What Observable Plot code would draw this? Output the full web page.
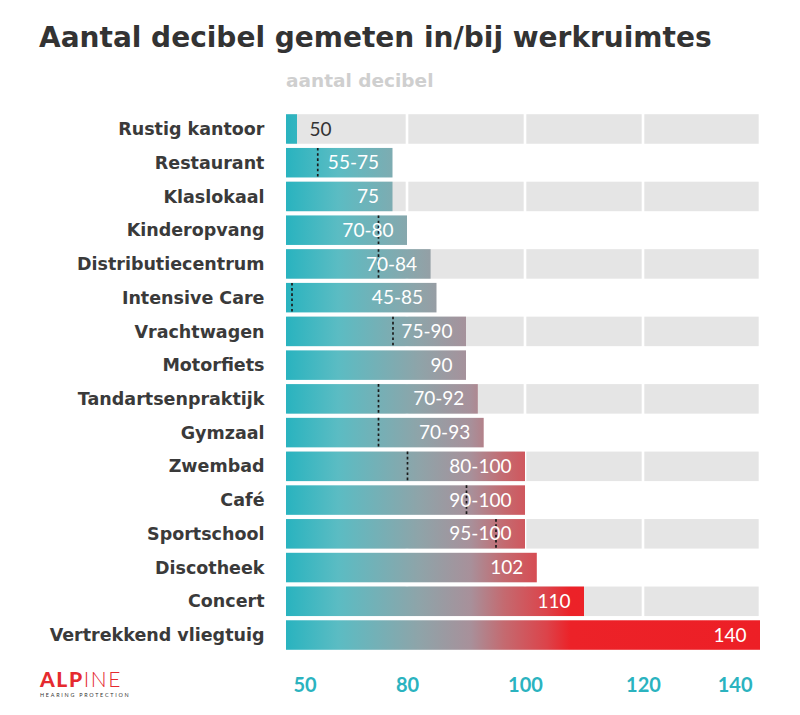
<!DOCTYPE html>
<html><head><meta charset="utf-8">
<script src="https://cdn.jsdelivr.net/npm/d3@7"></script>
<script src="https://cdn.jsdelivr.net/npm/@observablehq/plot@0.6"></script>
<style>
body{margin:0;background:#fff;font-family:Lato, sans-serif;}
#wrap{position:relative;width:800px;height:715px;overflow:hidden;}
#title{position:absolute;left:39px;top:20px;font-family:"DejaVu Sans",sans-serif;font-size:28px;font-weight:bold;color:#333;white-space:nowrap;line-height:36px;}
#sub{position:absolute;left:286px;top:69px;font-family:"DejaVu Sans",sans-serif;font-size:18.5px;font-weight:bold;color:#cfcfcf;line-height:24px;white-space:nowrap;}
#chart{position:absolute;left:0;top:64px;}
#logo1{position:absolute;left:40px;top:668px;color:#e52a2f;font-size:21px;line-height:21px;letter-spacing:1.6px;white-space:nowrap;}
#logo2{position:absolute;left:40px;top:692px;color:#333;font-size:5.4px;line-height:6px;letter-spacing:1.75px;white-space:nowrap;}
</style></head><body>
<div id="wrap">
<div id="title">Aantal decibel gemeten in/bij werkruimtes</div>
<div id="sub">aantal decibel</div>
<div id="chart"></div>
<div id="logo1"><span style="font-weight:900">ALP</span><span style="font-weight:300">INE</span></div>
<div id="logo2">HEARING PROTECTION</div>
</div>
<script>
const categories = ["Rustig kantoor","Restaurant","Klaslokaal","Kinderopvang","Distributiecentrum","Intensive Care","Vrachtwagen","Motorfiets","Tandartsenpraktijk","Gymzaal","Zwembad","Café","Sportschool","Discotheek","Concert","Vertrekkend vliegtuig"];
const lowValues = [null,55,null,70,70,45,75,null,70,70,80,90,95,null,null,null];
const highValues = [50,75,75,80,84,85,90,90,92,93,100,100,100,102,110,140];
const tickValues = [50,80,100,120,140];
const gridBreaks = [40,80,100,120,140];
const axisStart = 40;

const data = categories.map((c,i)=>({cat:c, i, lo:lowValues[i], hi:highValues[i],
  label: lowValues[i]!=null ? `${lowValues[i]}-${highValues[i]}` : `${highValues[i]}`}));
const bg = data.filter(d=>d.i%2===0).flatMap(d=>gridBreaks.slice(0,-1).map((b,k)=>({cat:d.cat, x1:b, x2:gridBreaks[k+1]})));

const teal = "#2bb3bf";
const chart = Plot.plot({
  width: 800, height: 651,
  marginLeft: 286, marginRight: 40, marginTop: 46, marginBottom: 61,
  style: {fontFamily: "Lato, sans-serif", fontSize: "18px", background: "transparent"},
  x: {type: "linear", domain: [40,50,70,80,100,120,140], range: [286,297,378,407,525,643,760], axis: null},
  y: {type: "band", domain: categories, padding: 0.125, round: false, label: null},
  marks: [
    Plot.barX(bg, {x1:"x1", x2:"x2", y:"cat", fill:"#e5e5e5", insetLeft:1.3, insetRight:1.3}),
    Plot.barX(data, {x1: ()=>axisStart, x2:"hi", y:"cat", fill:"url(#heat)"}),
    Plot.tickX(data.filter(d=>d.lo!=null), {x:"lo", y:"cat", stroke:"#1a1a1a", strokeWidth:1.7, strokeDasharray:"2.6,2.6"}),
    Plot.text(data.filter(d=>d.hi-axisStart>15), {x:"hi", y:"cat", text:"label", textAnchor:"end", dx:-14, fill:"white", fontSize:19}),
    Plot.text(data.filter(d=>d.hi-axisStart<=15), {x:"hi", y:"cat", text:"label", textAnchor:"start", dx:12, fill:"#333", fontSize:19}),
    Plot.axisY({tickSize:0, tickPadding:22, fontSize:17.5, fontWeight:"bold", fontFamily:"DejaVu Sans, sans-serif", fill:"#3a3a3a", label:null}),
    Plot.text(tickValues.slice(0,1), {x:d=>d, frameAnchor:"bottom", lineAnchor:"middle", dy:31, textAnchor:"start", dx:-4, fill:teal, fontSize:20, fontWeight:"bold"}),
    Plot.text(tickValues.slice(1,-1), {x:d=>d, frameAnchor:"bottom", lineAnchor:"middle", dy:31, fill:teal, fontSize:20, fontWeight:"bold"}),
    Plot.text(tickValues.slice(-1), {x:d=>d, frameAnchor:"bottom", lineAnchor:"middle", dy:31, textAnchor:"end", dx:-8, fill:teal, fontSize:20, fontWeight:"bold"})
  ]
});
const xs = chart.scale("x");
const gx1 = xs.apply(axisStart), gx2 = xs.apply(tickValues[tickValues.length-1]);
const defs = document.createElementNS("http://www.w3.org/2000/svg","defs");
defs.innerHTML = `<linearGradient id="heat" gradientUnits="userSpaceOnUse" x1="${gx1}" x2="${gx2}" y1="0" y2="0">
<stop offset="0" stop-color="#29b3bf"/>
<stop offset="0.11" stop-color="#5bbcc3"/>
<stop offset="0.28" stop-color="#8ea4a9"/>
<stop offset="0.39" stop-color="#a8909a"/>
<stop offset="0.46" stop-color="#c46a70"/>
<stop offset="0.55" stop-color="#dc434a"/>
<stop offset="0.60" stop-color="#ec2228"/>
<stop offset="1" stop-color="#ed1f26"/>
</linearGradient>`;
chart.prepend(defs);
document.getElementById("chart").appendChild(chart);
</script>
</body></html>
